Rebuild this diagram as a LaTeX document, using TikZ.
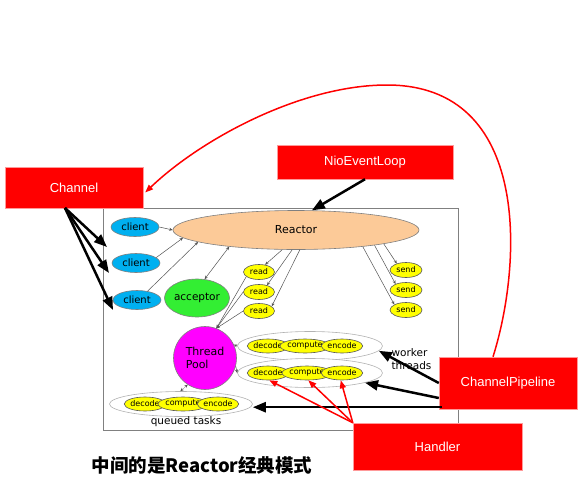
\documentclass[tikz,border=0pt]{standalone}
\usepackage{fontspec}
\setmainfont{DejaVu Sans}
\newfontfamily\boxfont{Liberation Sans}
\newfontfamily\cjkfont{Noto Sans CJK SC}
\usetikzlibrary{shapes.geometric,arrows.meta,calc}
\definecolor{cliblue}{HTML}{00B0F0}
\definecolor{peach}{HTML}{FCCA98}
\definecolor{accgreen}{HTML}{33EE33}
\definecolor{tpmag}{HTML}{FF00FF}
\definecolor{yel}{HTML}{FFFF00}
\definecolor{boxred}{HTML}{FF0000}
\definecolor{framec}{HTML}{808080}
\tikzset{
  ell/.style={ellipse,draw=framec,line width=0.6pt,inner sep=0pt},
  cli/.style={ell,fill=cliblue,minimum width=48pt,minimum height=19pt,font=\fontsize{10}{12}\selectfont},
  reac/.style={ell,fill=peach,minimum width=246pt,minimum height=39pt,font=\fontsize{11}{13}\selectfont},
  accs/.style={ell,fill=accgreen,minimum width=61pt,minimum height=38pt,font=\fontsize{10.5}{12}\selectfont},
  rs/.style={ell,fill=yel,draw=gray!70!black,minimum width=31pt,minimum height=15pt,font=\fontsize{8}{9}\selectfont},
  tps/.style={circle,draw=framec,line width=0.6pt,fill=tpmag,minimum size=63pt,inner sep=0pt,align=left,font=\fontsize{11}{13}\selectfont},
  grp/.style={ell,fill=white,draw=gray!60},
  ys/.style={ell,fill=yel,draw=gray!70!black,minimum width=32pt,minimum height=14pt,font=\fontsize{8}{9}\selectfont},
  redbox/.style={rectangle,fill=boxred,draw=red!40,line width=0.4pt,inner sep=0pt,text=white,font=\boxfont\fontsize{13}{15}\selectfont},
  tarr/.style={draw=gray!65!black,line width=0.5pt,-{Stealth[length=3.5pt,width=3pt]}},
  barr/.style={draw=black,line width=2.5pt,-{Triangle[length=13pt,width=10pt]}},
  rarr/.style={draw=boxred,line width=1.5pt,-{Triangle[length=8pt,width=6pt]}},
  lbl/.style={font=\fontsize{10.5}{13}\selectfont}
}
\begin{document}
\begin{tikzpicture}[x=1pt,y=-1pt]
\useasboundingbox (0,0) rectangle (584,480);
% frame
\draw[framec,line width=0.8pt] (103,208) rectangle (458,430);

% main nodes
\node[reac] (reactor) at (296,230) {Reactor};
\node[cli] (c1) at (135,227) {client};
\node[cli] (c2) at (136,263) {client};
\node[cli] (c3) at (137,300) {client};
\node[accs] (acc) at (197,298) {acceptor};
\node[rs] (r1) at (259,272) {read};
\node[rs] (r2) at (259,292) {read};
\node[rs] (r3) at (259,311) {read};
\node[rs,minimum width=32pt] (s1) at (406,270) {send};
\node[rs,minimum width=32pt] (s2) at (406,290) {send};
\node[rs,minimum width=32pt] (s3) at (406,310) {send};
\node[tps] (tp) at (205,358) {Thread\\Pool};

% worker groups
\node[grp,minimum width=145pt,minimum height=29pt] (w1) at (310,346) {};
\node[grp,minimum width=145pt,minimum height=29pt] (w2) at (310,373) {};
\node[grp,minimum width=143pt,minimum height=25pt] (q) at (181,404) {};
\node[ys] (w1d) at (268,346) {decode};
\node[ys] (w1c) at (305,346) {compute};
\node[ys] (w1e) at (342,346) {encode};
\node[ys] (w2d) at (268,373) {decode};
\node[ys] (w2c) at (307,373) {compute};
\node[ys] (w2e) at (342,373) {encode};
\node[ys] (qd) at (145,404) {decode};
\node[ys] (qc) at (183,404) {compute};
\node[ys] (qe) at (218,404) {encode};
\node[lbl,align=left,anchor=west] (wt) at (388,359) {worker\\threads};
\node[lbl] (qt) at (186,422) {queued tasks};

% thin arrows
\draw[tarr] (c1.east) -- (reactor.west);
\draw[tarr] (c2.15) -- (reactor.184);
\draw[tarr] (c3.40) -- (reactor.187);
\draw[tarr,{Stealth[length=3.5pt,width=3pt]}-{Stealth[length=3.5pt,width=3pt]}] (acc.68) -- (reactor.194);
\draw[tarr] (reactor.235) -- (r1.50);
\draw[tarr] (reactor.259) -- (r2.40);
\draw[tarr] (reactor.281) -- (r3.20);
\draw[tarr] (reactor.351) -- (s1.145);
\draw[tarr] (reactor.349) -- (s2.150);
\draw[tarr] (reactor.346) -- (s3.155);
\draw[tarr] (r1.200) -- (tp.69);
\draw[tarr] (r2.west) -- (tp.69);
\draw[tarr] (r3.west) -- (tp.69);
\draw[tarr] (w1.west) -- (tp.25);
\draw[tarr] (tp.-15) -- (w2.west);
\draw[tarr,densely dotted,{Stealth[length=3.5pt,width=3pt]}-{Stealth[length=3.5pt,width=3pt]}] (q.93) -- (tp.237);

% red boxes
\node[redbox,minimum width=138pt,minimum height=41pt] (ch) at (74,187.5) {Channel};
\node[redbox,minimum width=176pt,minimum height=34pt] (nio) at (365,162) {NioEventLoop};
\node[redbox,minimum width=138pt,minimum height=52pt] (cp) at (508,383) {ChannelPipeline};
\node[redbox,minimum width=169pt,minimum height=47pt] (hd) at (437.5,446.5) {Handler};

% black arrows
\coordinate (chs) at (65,208);
\coordinate (ce1) at (107,247);
\coordinate (ce2) at (109,273);
\coordinate (ce3) at (113,310);
\draw[barr] (chs) -- (ce1);
\draw[barr] (chs) -- (ce2);
\draw[barr] (chs) -- (ce3);
\draw[barr] (nio.south) -- (reactor.51);
\coordinate (cp2) at ($(cp.west)+(0,15)$);
\coordinate (cp3) at ($(cp.south west)+(3,-2)$);
\draw[barr] (cp.west) -- (w1.-4);
\draw[barr] (cp2) -- (w2.-10);
\draw[barr] (cp3) -- (q.east |- cp3);

% red arrows
\draw[rarr] (hd.north west) -- (w2d.-80);
\draw[rarr] (hd.north west) -- (w2c.-80);
\draw[rarr] (hd.north west) -- (w2e.-100);
\coordinate (cpt) at ($(cp.north)+(-15,0)$);
\coordinate (che) at ($(ch.east)+(2,5)$);
\draw[rarr] (cpt) .. controls (522,265) and (532,85) .. (387,85)
            .. controls (300,85) and (200,140) .. (che);

% caption
\node[font=\cjkfont\bfseries\fontsize{18.5}{22}\selectfont] (cap) at (202,465) {中间的是Reactor经典模式};
\end{tikzpicture}
\end{document}
